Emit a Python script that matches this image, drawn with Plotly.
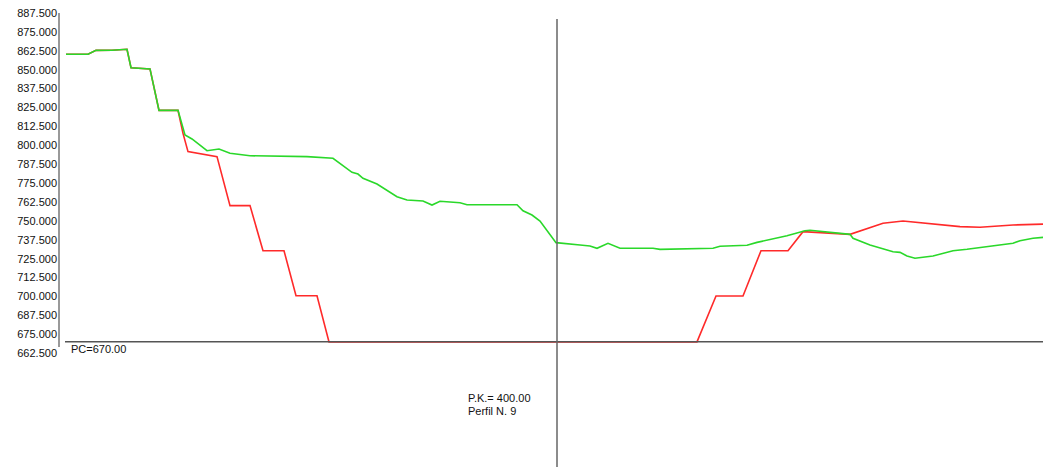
import plotly.graph_objects as go

# ---- data (distance from axis in m, elevation in m) ----
terrain_x = [-49.1, -46.9, -46.1, -44.5, -43.0, -42.6, -40.7, -39.8, -37.9, -37.2, -36.5,
             -35.0, -33.8, -32.7, -30.7, -25.0, -22.4, -20.5, -19.9, -19.4, -18.0, -16.0,
             -15.0, -13.4, -12.5, -11.7, -9.7, -9.0, -4.0, -3.4, -2.5, -1.7, -0.1, 1.0,
             2.3, 3.3, 4.0, 5.1, 6.3, 9.6, 10.3, 15.6, 16.3, 19.0, 20.0, 23.0, 24.8,
             25.3, 29.3, 29.6, 31.3, 33.6, 34.3, 35.0, 35.8, 37.6, 39.6, 41.0, 43.6,
             45.6, 46.3, 47.6, 48.6]
terrain_z = [860.2, 860.2, 862.8, 862.9, 863.5, 851.3, 850.5, 823.1, 823.1, 806.8, 804.2,
             796.4, 797.5, 794.7, 793.1, 792.5, 791.4, 782.1, 781.0, 778.2, 774.4, 766.0,
             763.8, 763.2, 760.5, 763.0, 762.0, 760.7, 760.7, 756.7, 753.9, 749.9, 735.6, 734.7,
             734.1, 733.4, 731.9, 735.2, 731.9, 731.9, 731.2, 731.9, 733.2, 733.9, 735.8, 740.2, 743.5,
             743.8, 741.1, 738.5, 734.1, 729.6, 729.2, 726.8, 725.3, 726.8, 730.3, 731.2, 733.4,
             735.2, 736.9, 738.5, 739.1]

design_x = [-49.1, -46.9, -46.1, -44.5, -43.0, -42.6, -40.7, -39.8, -37.9, -37.4, -36.9,
            -34.0, -32.7, -30.7, -29.4, -27.3, -26.1, -24.0, -22.8, 14.0, 15.9, 18.6,
            20.4, 23.1, 24.6, 29.3, 32.6, 34.6, 40.3, 42.3, 45.6, 48.6]
design_z = [860.2, 860.2, 862.8, 862.9, 863.5, 851.3, 850.5, 823.1, 823.1, 807.9, 795.8,
            792.5, 760.1, 760.1, 730.3, 730.3, 700.5, 700.5, 670.0, 670.0, 700.3, 700.3,
            730.3, 730.3, 742.9, 741.1, 748.4, 749.9, 746.2, 745.8, 747.3, 747.9]

y_ticks = [887.5, 875.0, 862.5, 850.0, 837.5, 825.0, 812.5, 800.0, 787.5, 775.0,
           762.5, 750.0, 737.5, 725.0, 712.5, 700.0, 687.5, 675.0, 662.5]
comparison_plane = 670.0
pk_label = "P.K.= 400.00"
profile_label = "Perfil N. 9"
pc_label = "PC=670.00"

# ---- geometry helpers (pixel -> data) ----
W, H = 1043, 469
L = 58
X0_PX, X_SCALE = 557.0, 10.0
Y0_PX, Y0_VAL, Y_SCALE = 13.0, 887.5, 1.512


def px2x(px):
    return (px - X0_PX) / X_SCALE


def py2y(py):
    return Y0_VAL - (py - Y0_PX) / Y_SCALE


FONT = "Liberation Sans, Arial, sans-serif"

fig = go.Figure()
fig.add_trace(go.Scatter(x=design_x, y=design_z, mode="lines",
                         line=dict(color="#ff2a2a", width=1.6), hoverinfo="skip"))
fig.add_trace(go.Scatter(x=terrain_x, y=terrain_z, mode="lines",
                         line=dict(color="#2ad82a", width=1.6), hoverinfo="skip"))

shapes = [
    # y axis line
    dict(type="line", xref="x", yref="y", x0=px2x(59), x1=px2x(59),
         y0=py2y(13), y1=py2y(347), line=dict(color="#777777", width=1.5)),
    # comparison plane
    dict(type="line", xref="x", yref="y", x0=px2x(65), x1=px2x(W),
         y0=comparison_plane, y1=comparison_plane, line=dict(color="#555555", width=1.5)),
    # axis of profile
    dict(type="line", xref="x", yref="y", x0=0, x1=0,
         y0=py2y(19), y1=py2y(467), line=dict(color="#666666", width=1.5)),
]

annotations = [
    dict(x=px2x(69), y=py2y(349), xref="x", yref="y", text=pc_label, showarrow=False,
         xanchor="left", yanchor="middle", font=dict(family=FONT, size=11, color="#111")),
    dict(x=px2x(466), y=py2y(398), xref="x", yref="y", text=pk_label, showarrow=False,
         xanchor="left", yanchor="middle", font=dict(family=FONT, size=11, color="#111")),
    dict(x=px2x(466), y=py2y(411), xref="x", yref="y", text=profile_label, showarrow=False,
         xanchor="left", yanchor="middle", font=dict(family=FONT, size=11, color="#111")),
]

fig.update_layout(
    width=W, height=H,
    margin=dict(l=L, r=0, t=0, b=0, pad=0, autoexpand=False),
    paper_bgcolor="white", plot_bgcolor="white",
    showlegend=False,
    shapes=shapes, annotations=annotations,
    xaxis=dict(range=[px2x(L), px2x(W)], visible=False, fixedrange=True, automargin=False),
    yaxis=dict(range=[py2y(H), py2y(0)], showgrid=False, zeroline=False, showline=False,
               tickmode="array", tickvals=y_ticks,
               ticktext=[f"{v:.3f}" for v in y_ticks],
               ticks="", tickfont=dict(family=FONT, size=11, color="#111"),
               fixedrange=True, automargin=False),
)

fig.write_html(
    "out.html",
    config={"displayModeBar": False},
    post_script="document.body.style.margin='0';document.body.style.overflow='hidden';",
)
